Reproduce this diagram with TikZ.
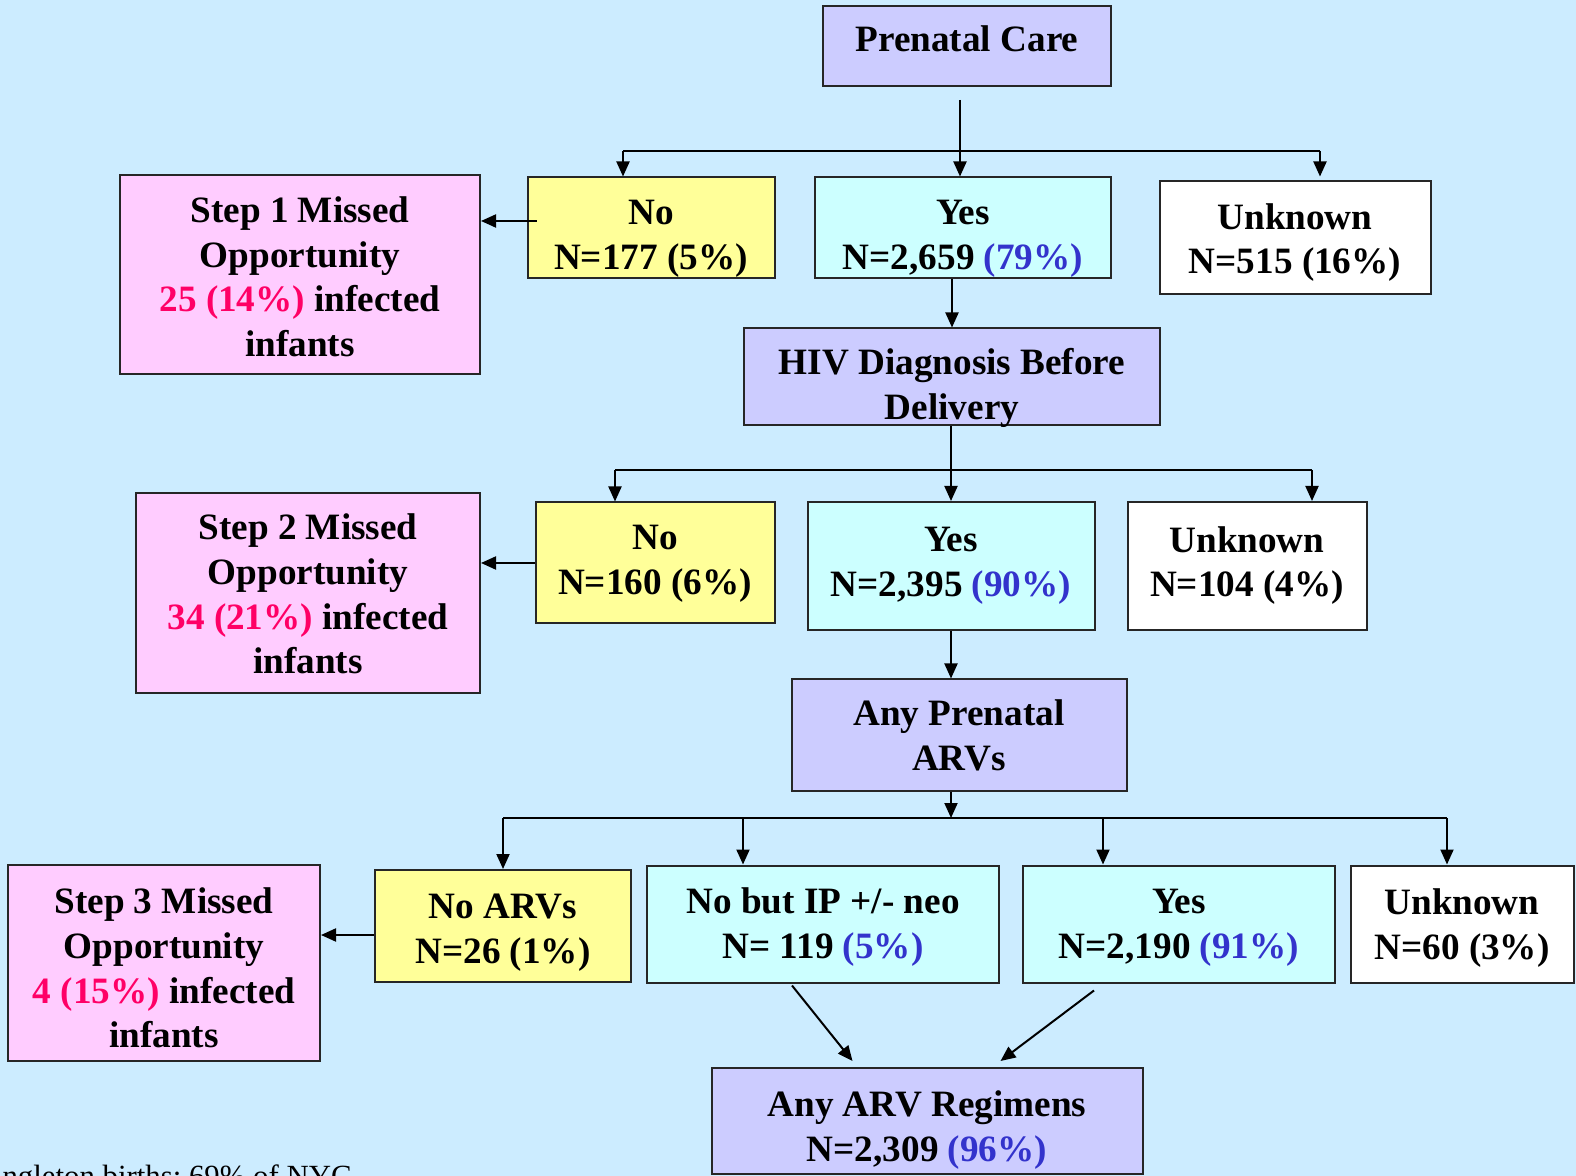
\documentclass[tikz,border=0pt]{standalone}
\usepackage{fontspec}
\setmainfont{Liberation Serif}
\usetikzlibrary{arrows.meta}

\definecolor{bgblue}{HTML}{CCECFF}
\definecolor{lavender}{HTML}{CCCCFF}
\definecolor{nofill}{HTML}{FFFF99}
\definecolor{yesfill}{HTML}{CCFFFF}
\definecolor{stepfill}{HTML}{FFCCFF}
\definecolor{missred}{HTML}{FF0066}
\definecolor{pctblue}{HTML}{3333CC}

\tikzset{
  tdep/.style={execute at end node={\rule[-#1]{0pt}{0pt}}},
  box/.style={draw=black!85, line width=1pt, align=center, inner xsep=0pt, inner ysep=-4pt,
    font=\bfseries\fontsize{18.6}{22.4}\selectfont, tdep=5pt},
  qbox/.style={box, fill=lavender},
  nobox/.style={box, fill=nofill},
  yesbox/.style={box, fill=yesfill},
  unkbox/.style={box, fill=white},
  stepbox/.style={box, fill=stepfill},
  arr/.style={line width=1pt, -{Triangle[length=7.5pt,width=6.5pt]}},
  ln/.style={line width=1pt}
}
\newcommand{\red}[1]{\textcolor{missred}{#1}}
\newcommand{\pct}[1]{\textcolor{pctblue}{#1}}
\newcommand{\tstrut}[1]{\rule{0pt}{#1}}

\begin{document}
\begin{tikzpicture}[x=0.5pt,y=-0.5pt]
	\fill[bgblue] (0,0) rectangle (1576,1176);
	\useasboundingbox (0,0) rectangle (1576,1176);

	% step 1: prenatal care
	\node[qbox, minimum width=144pt, minimum height=40pt, tdep=10pt] (prenatal) at (967,46) {\tstrut{15.6pt}Prenatal Care};
	\node[nobox, minimum width=123.5pt, minimum height=50.5pt] (no1) at (651,228) {\tstrut{24.2pt}No\\N=177 (5\%)};
	\node[yesbox, minimum width=148pt, minimum height=50.5pt] (yes1) at (963,228) {\tstrut{24.2pt}Yes\\N=2,659 \pct{(79\%)}};
	\node[unkbox, minimum width=135.5pt, minimum height=56.5pt] (unk1) at (1295,238) {\tstrut{18.6pt}Unknown\\N=515 (16\%)};
	\node[stepbox, minimum width=180pt, minimum height=99.5pt] (step1) at (300,275) {\tstrut{19.6pt}Step 1 Missed\\Opportunity\\\red{25 (14\%)} infected\\infants};

	\coordinate (t1a) at (960,100);
	\coordinate (t1) at (960,151);
	\coordinate (t1l) at (623,151);
	\coordinate (t1r) at (1320,151);
	\draw[arr] (t1a) -- (t1 |- yes1.north);
	\draw[ln] (t1l) -- (t1r);
	\draw[arr] (t1l) -- (t1l |- no1.north);
	\draw[arr] (t1r) -- (t1r |- yes1.north);
	\draw[arr] ([xshift=5pt,yshift=3.5pt]no1.west) -- ([yshift=3.5pt]no1.west -| step1.east);

	% step 2: hiv diagnosis
	\node[qbox, minimum width=208pt, minimum height=48.5pt] (hiv) at (952,377) {\tstrut{24.8pt}HIV Diagnosis Before\\Delivery};
	\draw[arr] (yes1.south -| hiv) -- (hiv.north);

	\node[nobox, minimum width=119.5pt, minimum height=60.5pt] (no2) at (655,563) {\tstrut{14.2pt}No\\N=160 (6\%)};
	\node[yesbox, minimum width=143.5pt, minimum height=64pt] (yes2) at (951,566) {\tstrut{13.2pt}Yes\\N=2,395 \pct{(90\%)}};
	\node[unkbox, minimum width=119.5pt, minimum height=64pt] (unk2) at (1247,566) {\tstrut{13.6pt}Unknown\\N=104 (4\%)};
	\node[stepbox, minimum width=172pt, minimum height=100pt] (step2) at (308,593) {\tstrut{18.6pt}Step 2 Missed\\Opportunity\\\red{34 (21\%)} infected\\infants};

	\coordinate (t2l) at (615,470);
	\coordinate (t2r) at (1312,470);
	\draw[arr] (hiv.south -| yes2) -- (yes2.north);
	\draw[ln] (t2l) -- (t2r);
	\draw[arr] (t2l) -- (t2l |- no2.north);
	\draw[arr] (t2r) -- (t2r |- unk2.north);
	\draw[arr] (no2.west) -- (no2.west -| step2.east);

	% step 3: prenatal arvs
	\node[qbox, minimum width=167.5pt, minimum height=55.5pt] (anyp) at (959,735) {\tstrut{17.6pt}Any Prenatal\\ARVs};
	\draw[arr] (yes2) -- (yes2 |- anyp.north);

	\node[nobox, minimum width=128pt, minimum height=56pt] (noarv) at (503,926) {\tstrut{20.2pt}No ARVs\\N=26 (1\%)};
	\node[yesbox, minimum width=176pt, minimum height=58.5pt] (nobut) at (823,924) {\tstrut{16.6pt}No but IP +/- neo\\N= 119 \pct{(5\%)}};
	\node[yesbox, minimum width=156pt, minimum height=58.5pt] (yes3) at (1179,924) {\tstrut{17.2pt}Yes\\N=2,190 \pct{(91\%)}};
	\node[unkbox, minimum width=111.5pt, minimum height=58.5pt] (unk3) at (1462,924) {\tstrut{17.6pt}Unknown\\N=60 (3\%)};
	\node[stepbox, minimum width=156pt, minimum height=98pt] (step3) at (164,963) {\tstrut{22.6pt}Step 3 Missed\\Opportunity\\\red{4 (15\%)} infected\\infants};

	\coordinate (t3) at (951,818);
	\coordinate (t3l) at (503,818);
	\coordinate (t3m) at (743,818);
	\coordinate (t3n) at (1103,818);
	\coordinate (t3r) at (1447,818);
	\draw[arr] (anyp.south -| t3) -- (t3);
	\draw[ln] (t3l) -- (t3r);
	\draw[arr] (t3l) -- (t3l |- noarv.north);
	\draw[arr] (t3m) -- (t3m |- nobut.north);
	\draw[arr] (t3n) -- (t3n |- yes3.north);
	\draw[arr] (t3r) -- (t3r |- unk3.north);
	\draw[arr] ([yshift=-4.5pt]noarv.west) -- ([yshift=-4.5pt]noarv.west -| step3.east);

	% result
	\node[qbox, minimum width=215.5pt, minimum height=53pt] (anyarv) at (927,1121) {\tstrut{22.8pt}Any ARV Regimens\\N=2,309 \pct{(96\%)}};
	\draw[arr] ([xshift=73pt,yshift=-1pt]nobut.south west) -- ([xshift=71pt,yshift=3pt]anyarv.north west);
	\draw[arr] ([xshift=36pt,yshift=-3.5pt]yes3.south west) -- ([xshift=145pt,yshift=3pt]anyarv.north west);

	\node[anchor=base east, inner sep=0pt, font=\fontsize{15.4}{18}\selectfont] (note) at (352,1186) {singleton births; 69\% of NYC};
\end{tikzpicture}
\end{document}
